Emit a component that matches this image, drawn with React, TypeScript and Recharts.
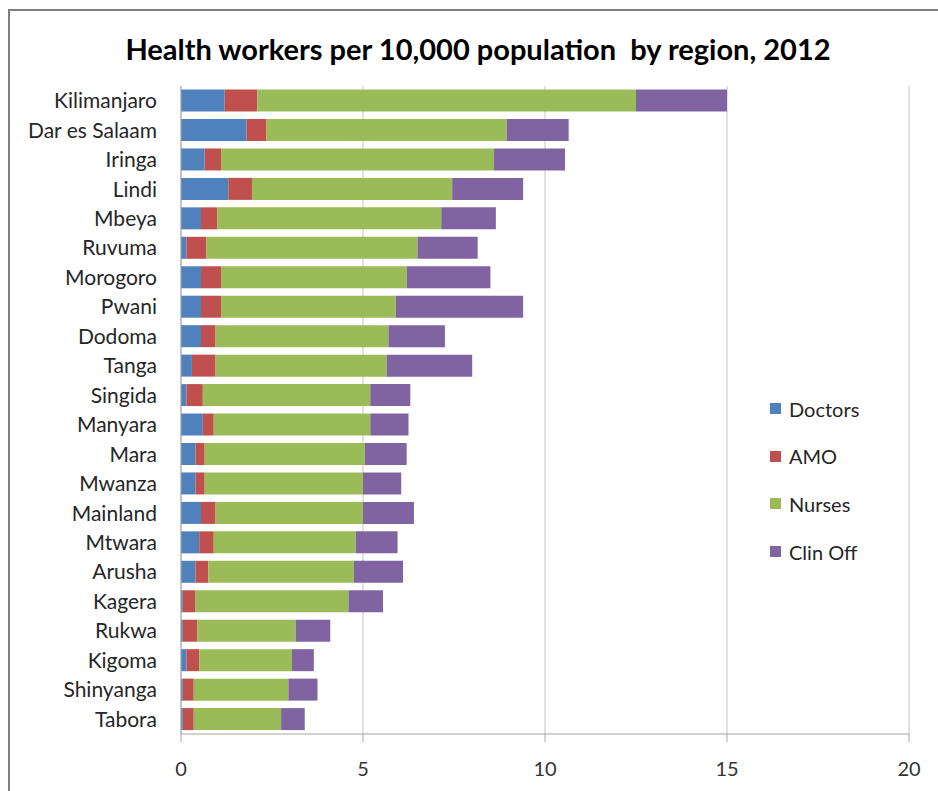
import { BarChart, Bar, XAxis, YAxis, CartesianGrid, Legend } from "recharts";

const regions = [
  "Kilimanjaro", "Dar es Salaam", "Iringa", "Lindi", "Mbeya", "Ruvuma", "Morogoro",
  "Pwani", "Dodoma", "Tanga", "Singida", "Manyara", "Mara", "Mwanza", "Mainland",
  "Mtwara", "Arusha", "Kagera", "Rukwa", "Kigoma", "Shinyanga", "Tabora",
];
const doctors = [1.2, 1.8, 0.65, 1.3, 0.55, 0.15, 0.55, 0.55, 0.55, 0.3, 0.15, 0.6, 0.4, 0.4, 0.55, 0.5, 0.4, 0.05, 0.05, 0.15, 0.05, 0.05];
const amo = [0.9, 0.55, 0.45, 0.65, 0.45, 0.55, 0.55, 0.55, 0.4, 0.65, 0.45, 0.3, 0.25, 0.25, 0.4, 0.4, 0.35, 0.35, 0.4, 0.35, 0.3, 0.3];
const nurses = [10.4, 6.6, 7.5, 5.5, 6.15, 5.8, 5.1, 4.8, 4.75, 4.7, 4.6, 4.3, 4.4, 4.35, 4.05, 3.9, 4.0, 4.2, 2.7, 2.55, 2.6, 2.4];
const clinOff = [2.5, 1.7, 1.95, 1.95, 1.5, 1.65, 2.3, 3.5, 1.55, 2.35, 1.1, 1.05, 1.15, 1.05, 1.4, 1.15, 1.35, 0.95, 0.95, 0.6, 0.8, 0.65];
const xTicks = [0, 5, 10, 15, 20];

const series = [
  { key: "doctors", label: "Doctors", color: "#4F81BD" },
  { key: "amo", label: "AMO", color: "#C0504D" },
  { key: "nurses", label: "Nurses", color: "#9BBB59" },
  { key: "clinOff", label: "Clin Off", color: "#8064A2" },
];

const data = regions.map((region, i) => ({
  region,
  doctors: doctors[i],
  amo: amo[i],
  nurses: nurses[i],
  clinOff: clinOff[i],
}));

const FONT = "Lato, 'Open Sans', sans-serif";

function LegendBox() {
  return (
    <div style={{ fontFamily: FONT }}>
      {series.map((s) => (
        <div key={s.key} style={{ height: 47.6, display: "flex", alignItems: "center" }}>
          <span style={{ width: 11, height: 11, background: s.color, display: "inline-block", marginRight: 8 }} />
          <span style={{ fontSize: 20, color: "#262626" }}>{s.label}</span>
        </div>
      ))}
    </div>
  );
}

export default function App() {
  return (
    <div
      style={{
        position: "absolute",
        left: 0,
        top: 0,
        width: 938,
        height: 791,
        overflow: "hidden",
        background: "#fff",
        fontFamily: FONT,
      }}
    >
      {/* frame */}
      <div
        style={{
          position: "absolute",
          left: 8,
          top: 9,
          width: 960,
          height: 820,
          borderLeft: "2px solid #7f7f7f",
          borderTop: "2px solid #7f7f7f",
        }}
      />
      <div
        style={{
          position: "absolute",
          left: 18,
          top: 32,
          width: 920,
          textAlign: "center",
          fontSize: 29,
          fontWeight: 700,
          lineHeight: "34px",
          whiteSpace: "pre",
          color: "#000",
        }}
      >
        {"Health workers per 10,000 population  by region, 2012"}
      </div>
      <BarChart
        width={938}
        height={791}
        data={data}
        layout="vertical"
        barCategoryGap="12%"
        margin={{ top: 86, right: 29, bottom: 17, left: 0 }}
      >
        <CartesianGrid horizontal={false} stroke="#c4c4c4" />
        <XAxis
          type="number"
          domain={[0, 20]}
          ticks={xTicks}
          height={40}
          tick={{ fontSize: 20, fill: "#333", fontFamily: FONT }}
          tickSize={8}
          tickMargin={20}
          tickLine={{ stroke: "#a6a6a6" }}
          axisLine={{ stroke: "#a6a6a6" }}
        />
        <YAxis
          type="category"
          dataKey="region"
          width={181}
          tick={{ fontSize: 21, fill: "#262626", fontFamily: FONT }}
          tickLine={false}
          tickSize={0}
          tickMargin={24}
          axisLine={{ stroke: "#a6a6a6" }}
          interval={0}
        />
        <Legend
          layout="horizontal"
          verticalAlign="middle"
          align="center"
          content={() => <LegendBox />}
          wrapperStyle={{ position: "absolute", left: 770, top: 385, width: 140 }}
        />
        {series.map((s) => (
          <Bar key={s.key} dataKey={s.key} name={s.label} stackId="a" fill={s.color} isAnimationActive={false} />
        ))}
      </BarChart>
    </div>
  );
}
